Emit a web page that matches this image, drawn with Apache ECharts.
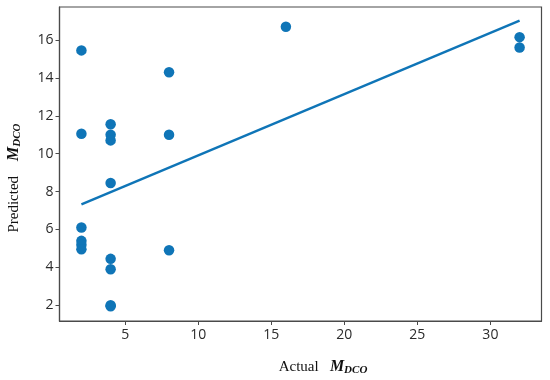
<!DOCTYPE html>
<html>
<head>
<meta charset="utf-8">
<script src="https://cdn.jsdelivr.net/npm/echarts@6/dist/echarts.min.js"></script>
<style>html,body{margin:0;padding:0;background:#fff}#c{width:550px;height:380px}</style>
</head>
<body>
<div id="c"></div>
<script>
// Actual M_DCO values of each point
var actualX = [2, 2, 2, 2, 2, 2, 4, 4, 4, 4, 4, 4, 4, 4, 8, 8, 8, 16, 32, 32];
// Predicted M_DCO values of each point
var predictedY = [15.45, 11.05, 6.1, 5.4, 5.2, 4.95, 11.55, 11.0, 10.7, 8.45, 4.45, 3.9, 2.0, 1.95, 14.3, 11.0, 4.9, 16.7, 16.15, 15.6];
// fitted line endpoints
var fitX = [2, 32];
var fitY = [7.33, 17.02];
// tick labels
var xTicks = [5, 10, 15, 20, 25, 30];
var yTicks = [2, 4, 6, 8, 10, 12, 14, 16];

var pts = actualX.map(function (x, i) { return [x, predictedY[i]]; });
var line = fitX.map(function (x, i) { return [x, fitY[i]]; });

var blue = '#0f75b7';
var axisCol = '#4a4a4a';
var labelRich = {
  a: { fontFamily: 'Liberation Serif', fontSize: 15, fill: '#111' },
  m: { fontFamily: 'Liberation Serif', fontSize: 16, fontStyle: 'italic', fontWeight: 'bold', fill: '#111' },
  s: { fontFamily: 'Liberation Serif', fontSize: 11, fontStyle: 'italic', fontWeight: 'bold', fill: '#111', padding: [6, 0, 0, 0] }
};
var chart = echarts.init(document.getElementById('c'));
chart.setOption({
  animation: false,
  grid: { left: 59.5, right: 8.5, top: 7, bottom: 59, show: true, borderColor: axisCol, borderWidth: 1.2 },
  xAxis: {
    type: 'value', min: 0.5, max: 33.5,
    axisLine: { show: true, onZero: false, lineStyle: { color: axisCol, width: 1.2 } },
    axisTick: { show: true, length: 4, customValues: xTicks, lineStyle: { color: axisCol } },
    axisLabel: { customValues: xTicks, color: '#2b2b2b', fontSize: 14, fontFamily: 'Open Sans', margin: 7 },
    splitLine: { show: false }
  },
  yAxis: {
    type: 'value', min: 1.17, max: 17.74,
    axisLine: { show: true, onZero: false, lineStyle: { color: axisCol, width: 1.2 } },
    axisTick: { show: true, length: 4, customValues: yTicks, lineStyle: { color: axisCol } },
    axisLabel: { customValues: yTicks, color: '#2b2b2b', fontSize: 14, fontFamily: 'Open Sans', margin: 6 },
    splitLine: { show: false }
  },
  series: [
    { type: 'scatter', data: pts, symbolSize: 10.5, itemStyle: { color: blue, opacity: 1 }, z: 3 },
    { type: 'line', data: line, showSymbol: false, symbol: 'none', lineStyle: { color: blue, width: 2.4 }, z: 2 }
  ],
  graphic: [
    {
      type: 'text', x: 323, y: 367,
      style: { text: '{a|Actual   }{m|M}{s|DCO}', align: 'center', verticalAlign: 'middle', rich: labelRich }
    },
    {
      type: 'text', x: 14, y: 178, rotation: Math.PI / 2,
      style: { text: '{a|Predicted    }{m|M}{s|DCO}', align: 'center', verticalAlign: 'middle', rich: labelRich }
    }
  ]
});
</script>
</body>
</html>
